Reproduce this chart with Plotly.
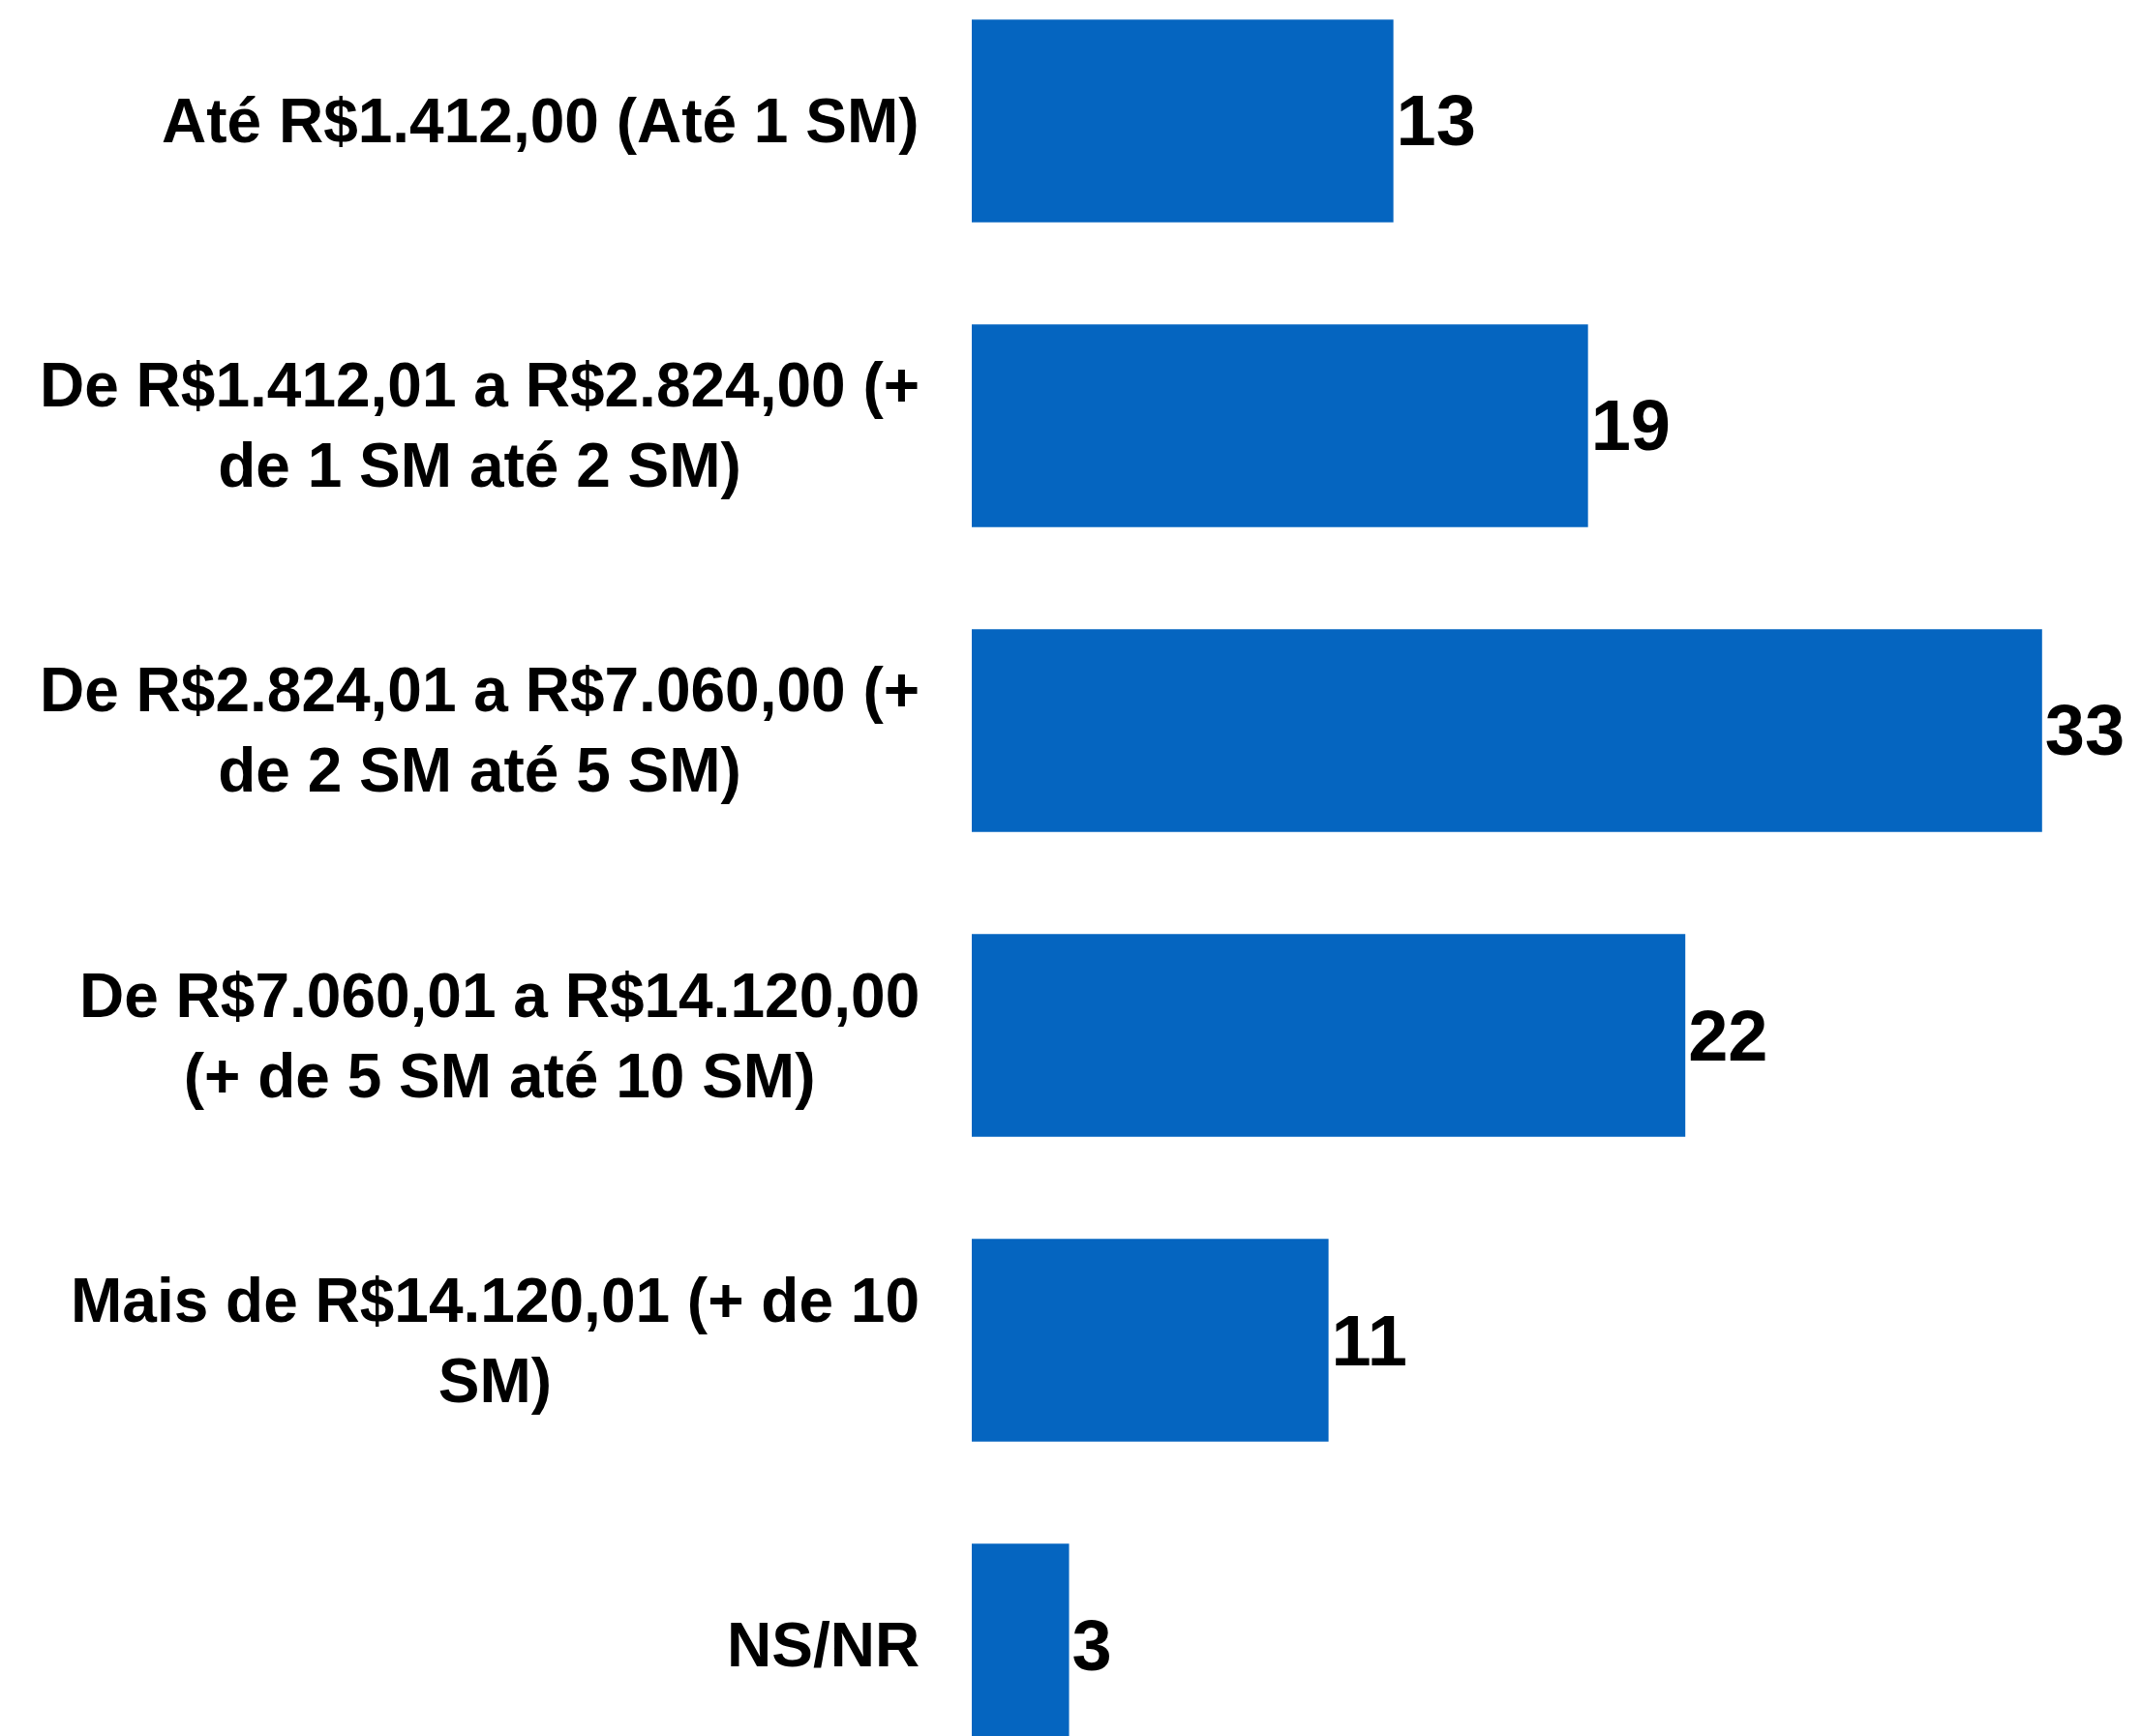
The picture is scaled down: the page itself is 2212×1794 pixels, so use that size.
import plotly.graph_objects as go

categorias = [
    "Até R$1.412,00 (Até 1 SM)",
    "De R$1.412,01 a R$2.824,00 (+<br>de 1 SM até 2 SM)",
    "De R$2.824,01 a R$7.060,00 (+<br>de 2 SM até 5 SM)",
    "De R$7.060,01 a R$14.120,00<br>(+ de 5 SM até 10 SM)",
    "Mais de R$14.120,01 (+ de 10<br>SM)",
    "NS/NR",
]
valores = [13, 19, 33, 22, 11, 3]

fonte = "Liberation Sans, Arial, Helvetica, sans-serif"

fig = go.Figure()
fig.add_trace(go.Bar(
    x=valores,
    y=categorias,
    orientation='h',
    marker=dict(color='#0565C0', line=dict(width=0)),
    text=[str(v) for v in valores],
    textposition='outside',
    textfont=dict(family=fonte, size=74, color='black', weight='bold'),
    cliponaxis=False,
    hoverinfo='skip',
))

# rótulos das categorias (centralizados, à esquerda das barras)
for cat in categorias:
    fig.add_annotation(
        x=0, xref='paper', y=cat, yref='y',
        text=cat, showarrow=False,
        xanchor='right', yanchor='middle', align='center',
        xshift=-52,
        font=dict(family=fonte, size=64, color='black', weight='bold'),
    )

# a página tem margem de 8px no body, por isso o deslocamento
fig.update_layout(
    width=2204,
    height=1786,
    margin=dict(l=996, r=0, t=0, b=0),
    paper_bgcolor='white',
    plot_bgcolor='white',
    bargap=0.335,
    showlegend=False,
    xaxis=dict(range=[0, 36.05], visible=False),
    yaxis=dict(type='category', categoryorder='array', categoryarray=categorias,
               range=[5.298, -0.371], showticklabels=False, showgrid=False,
               zeroline=False, ticks=''),
)

fig.write_html("out.html")
